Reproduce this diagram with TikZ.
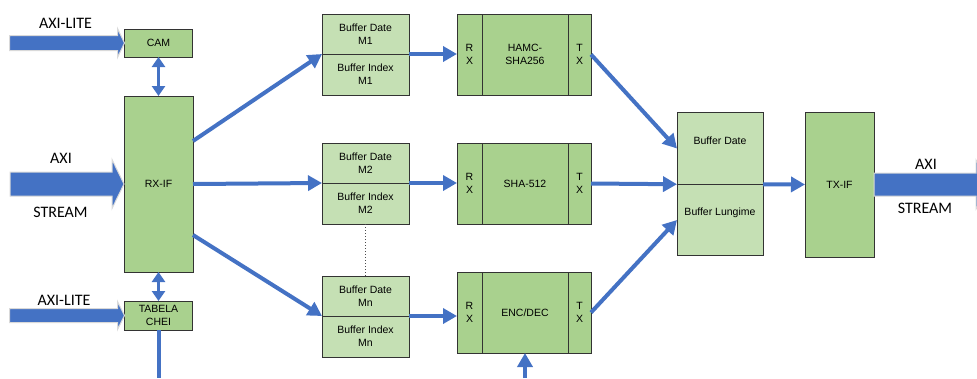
\documentclass[tikz,border=0pt]{standalone}
\usepackage{fontspec}
\setmainfont{Liberation Sans}
\newfontfamily\lblfont{Carlito}
\usetikzlibrary{positioning,arrows.meta}
\definecolor{axiblue}{HTML}{4472C4}
\definecolor{darkgreen}{HTML}{A9D18E}
\definecolor{lightgreen}{HTML}{C5E0B4}
\tikzstyle{block}=[draw=black!80,line width=0.8pt,fill=darkgreen,outer sep=0pt,inner sep=1pt,align=center,font=\fontsize{10.5}{13}\selectfont]
\tikzstyle{buffer}=[block,fill=lightgreen,minimum width=87pt]
\tikzstyle{link}=[draw=axiblue,line width=4pt,-{Triangle[length=14pt,width=15pt]}]
\tikzstyle{dlink}=[draw=axiblue,line width=3.5pt,{Triangle[length=10pt,width=13pt]}-{Triangle[length=10pt,width=13pt]}]
\tikzstyle{fat}=[fill=axiblue,draw=gray!30,line width=1pt]
\tikzstyle{label}=[font=\lblfont\fontsize{16}{18}\selectfont]

\begin{document}
\begin{tikzpicture}[x=1pt,y=-1pt]
\useasboundingbox (0,0) rectangle (977,378);
\clip (0,0) rectangle (977,378);
% input side
\node[block,minimum width=68pt,minimum height=28pt] (cam) at (158.5,43) {CAM};
\node[block,minimum width=69pt,minimum height=176pt] (rxif) at (158.5,184) {RX-IF};
\node[block,minimum width=68pt,minimum height=29pt] (tabela) at (158.5,315.5) {TABELA\\CHEI};
\draw[dlink] (cam.south) -- (rxif.north);
\draw[dlink] (rxif.south) -- (tabela.north);
\coordinate (keyout) at (158.5,378);
\draw[axiblue,line width=4pt] (tabela.south) -- (keyout);

% fat input arrows
\draw[fat] (cam.west) -- ++(-7,-14.5) -- ++(0,7) -- ++(-108,0) -- ++(0,15) -- ++(108,0) -- ++(0,7) -- cycle;
\draw[fat] (rxif.west) -- ++(-12,-24.5) -- ++(0,12.5) -- ++(-102,0) -- ++(0,24) -- ++(102,0) -- ++(0,12.5) -- cycle;
\draw[fat] (tabela.west) -- ++(-7,-14) -- ++(0,7) -- ++(-108,0) -- ++(0,14) -- ++(108,0) -- ++(0,7) -- cycle;
\node[label] (l1) at (65.5,23) {AXI-LITE};
\node[label] (l2) at (61,158) {AXI};
\node[label] (l3) at (60.5,212) {STREAM};
\node[label] (l4) at (64,300) {AXI-LITE};

% buffers
\node[buffer,minimum height=40pt] (bd1) at (365.5,34) {Buffer Date\\M1};
\node[buffer,minimum height=41pt,below=0pt of bd1] (bi1) {Buffer Index\\M1};
\node[buffer,minimum height=40pt] (bd2) at (365.5,163) {Buffer Date\\M2};
\node[buffer,minimum height=41pt,below=0pt of bd2] (bi2) {Buffer Index\\M2};
\node[buffer,minimum height=40pt] (bdn) at (365.5,296) {Buffer Date\\Mn};
\node[buffer,minimum height=41pt,below=0pt of bdn] (bin) {Buffer Index\\Mn};
\draw[dotted,black!70,line width=1pt] (bi2.south) -- (bdn.north);

\draw[link] ([yshift=43pt]rxif.east) -- (bd1.south west);
\draw[link] (rxif.east) -- (bd2.south west);
\draw[link] ([yshift=-51pt]rxif.east) -- (bdn.south west);

% cores
\node[block,minimum width=25pt,minimum height=81pt] (rx1) at (469.5,54.5) {R\\X};
\node[block,minimum width=86pt,minimum height=81pt,right=0pt of rx1] (c1) {HAMC-\\SHA256};
\node[block,minimum width=23pt,minimum height=81pt,right=0pt of c1] (tx1) {T\\X};
\node[block,minimum width=25pt,minimum height=81pt] (rx2) at (469.5,183.5) {R\\X};
\node[block,minimum width=86pt,minimum height=81pt,right=0pt of rx2] (c2) {SHA-512};
\node[block,minimum width=23pt,minimum height=81pt,right=0pt of c2] (tx2) {T\\X};
\node[block,minimum width=25pt,minimum height=81pt] (rx3) at (469.5,312.5) {R\\X};
\node[block,minimum width=86pt,minimum height=81pt,right=0pt of rx3] (c3) {ENC/DEC};
\node[block,minimum width=23pt,minimum height=81pt,right=0pt of c3] (tx3) {T\\X};

\draw[link] (bd1.south east) -- (bd1.south east -| rx1.west);
\draw[link] (bd2.south east) -- (bd2.south east -| rx2.west);
\draw[link] (bdn.south east) -- (bdn.south east -| rx3.west);
\coordinate (encin) at (525,378);
\draw[link] (encin) -- (c3.south);

% output side
\node[buffer,minimum width=86pt,minimum height=71.5pt,text depth=16pt] (bdate) at (720,148.5) {Buffer Date};
\node[buffer,minimum width=86pt,minimum height=71.5pt,text depth=16pt,below=0pt of bdate] (blung) {Buffer Lungime};
\node[block,minimum width=69pt,minimum height=145pt] (txif) at (839.5,184.5) {TX-IF};

\draw[link] (tx1.east) -- (bdate.west);
\draw[link] (tx2.east) -- (bdate.south west);
\draw[link] (tx3.east) -- (blung.west);
\draw[link] (bdate.south east) -- (txif.west);

\draw[fat] (txif.east) ++(0,-11.5) -- ++(102,0) -- ++(0,-13) -- ++(14,24.5) -- ++(-14,24.5) -- ++(0,-13) -- ++(-102,0) -- cycle;
\node[label] (r1) at (926,164) {AXI};
\node[label] (r2) at (925,208) {STREAM};
\end{tikzpicture}
\end{document}
